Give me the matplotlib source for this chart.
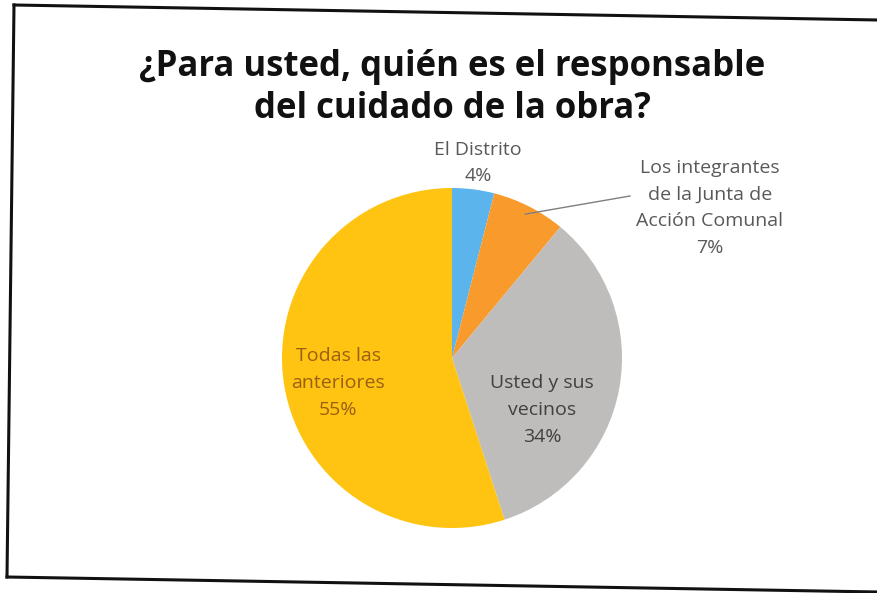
import matplotlib.pyplot as plt
import numpy as np
from matplotlib.lines import Line2D

# Survey answers, clockwise from 12 o'clock
categories = ["El Distrito", "Los integrantes\nde la Junta de\nAcción Comunal",
              "Usted y sus\nvecinos", "Todas las\nanteriores"]
shares = [4, 7, 34, 55]
colors = ["#5BB4EC", "#F99B2C", "#BEBDBB", "#FFC311"]

W, H = 878, 593
fig = plt.figure(figsize=(W / 100, H / 100), dpi=100)
fig.patch.set_facecolor("white")

# pie centre and radius in pixels
cx, cy, r = 452, 358, 170
ax = fig.add_axes([(cx - r) / W, (H - cy - r) / H, 2 * r / W, 2 * r / H])
wedges, _ = ax.pie(shares, colors=colors, startangle=90, counterclock=False,
                   radius=1, wedgeprops=dict(linewidth=0))
ax.set_xlim(-1, 1)
ax.set_ylim(-1, 1)
ax.set_aspect("equal")
ax.axis("off")


def px(x, y):
    # pixel position -> pie data coordinates
    return (x - cx) / r, (cy - y) / r


font = "Open Sans"
lab = dict(ha="center", va="center", fontsize=14, family=font, linespacing=1.62)

# El Distrito (outside, above)
ax.text(*px(478, 163), f"{categories[0]}\n{shares[0]}%", color="#595959",
        clip_on=False, **lab)

# Junta de Acción Comunal (outside, with a leader line)
tx, ty = px(710, 208)
ax.text(tx, ty, f"{categories[1]}\n{shares[1]}%", color="#595959",
        clip_on=False, **lab)
w = wedges[1]
mid = np.deg2rad((w.theta1 + w.theta2) / 2)
ex, ey = px(630, 196)
ax.plot([0.95 * np.cos(mid), ex], [0.95 * np.sin(mid), ey], color="#7f7f7f",
        lw=1, clip_on=False)

# inside labels
ax.text(*px(542, 410), f"{categories[2]}\n{shares[2]}%", color="#404040", **lab)
ax.text(*px(338, 383), f"{categories[3]}\n{shares[3]}%", color="#9A5F12", **lab)

# title
fig.text(452 / W, 1 - 88 / H, "¿Para usted, quién es el responsable\ndel cuidado de la obra?",
         ha="center", va="center", fontsize=25, fontweight="bold", family=font,
         linespacing=1.25, color="#111111")

# slightly skewed frame around the chart
frame = [(14, 5), (878, 20), (878, 592), (7, 577), (14, 5)]
for (x0, y0), (x1, y1) in zip(frame[:-1], frame[1:]):
    if x0 == x1 == W:
        continue
    fig.add_artist(Line2D([x0 / W, x1 / W], [1 - y0 / H, 1 - y1 / H],
                          color="#111111", lw=2.2, transform=fig.transFigure))

fig.savefig("out.png", dpi=100, facecolor="white")
